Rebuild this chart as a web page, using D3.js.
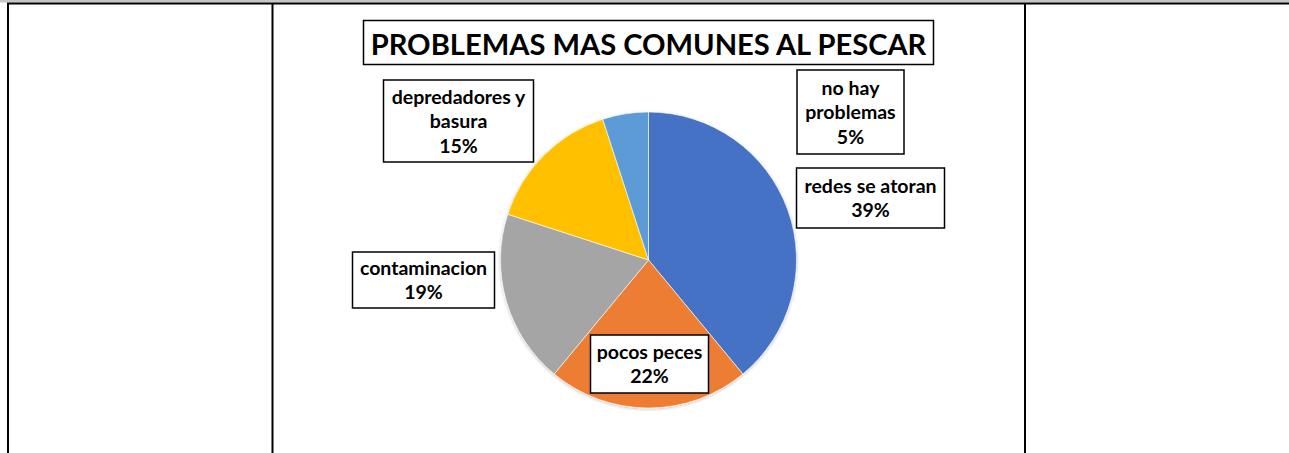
<!DOCTYPE html>
<html>
<head>
<meta charset="utf-8">
<script src="https://cdn.jsdelivr.net/npm/d3@7"></script>
<style>
  html, body { margin: 0; padding: 0; background: #fff; }
  svg { display: block; }
  text { font-family: Lato, "Open Sans", "DejaVu Sans", sans-serif; font-weight: bold; fill: #000; }
</style>
</head>
<body>
<svg id="chart" width="1289" height="453"></svg>
<script>
(function()
{
    "use strict";

    // data
    var categories = ["redes se atoran", "pocos peces", "contaminacion", "depredadores y basura", "no hay problemas"];
    var values     = [39, 22, 19, 15, 5];
    var labelLines = [["redes se atoran"], ["pocos peces"], ["contaminacion"], ["depredadores y", "basura"], ["no hay", "problemas"]];
    var colors     = ["#4472C4", "#ED7D31", "#A5A5A5", "#FFC000", "#5B9BD5"];
    var title      = "PROBLEMAS MAS COMUNES AL PESCAR";

    // label box layout relative to pie centre: [dx, dy, w, h]
    var labelBoxes = [[222, -62, 148, 60], [1, 104, 118, 58], [-225, 20, 142, 56], [-190, -139, 150, 82], [202, -148, 107, 84]];

    var W = 1289, H = 453;
    var cx = 648.5, cy = 260, r = 148;
    var lineH = 24.5;

    var svg = d3.select("#chart");

    // #########################################################################
    // table frame
    svg.append("rect").attr("x", 0).attr("y", 0).attr("width", W).attr("height", 2.5).attr("fill", "#c6c6c6");
    svg.append("line").attr("x1", 7).attr("x2", W).attr("y1", 3.5).attr("y2", 3.5)
       .attr("stroke", "#000").attr("stroke-width", 2);
    [8, 272.5, 1025].forEach(function(x) {
        svg.append("line").attr("x1", x).attr("x2", x).attr("y1", 3).attr("y2", H)
           .attr("stroke", "#000").attr("stroke-width", 2);
    });
    // #########################################################################

    // #########################################################################
    // title box
    svg.append("rect")
        .attr("x", 363.5).attr("y", 20.5).attr("width", 570).attr("height", 44)
        .attr("fill", "#fff").attr("stroke", "#000").attr("stroke-width", 1.5);

    var titleText = svg.append("text")
        .attr("x", cx).attr("y", 55)
        .attr("text-anchor", "middle")
        .style("font-size", "30px")
        .text(title);
    var tw = titleText.node().getComputedTextLength();
    titleText.style("font-size", (30 * 556 / tw) + "px");
    // #########################################################################

    // #########################################################################
    // pie
    var defs = svg.append("defs");
    var filt = defs.append("filter").attr("id", "soft").attr("x", "-10%").attr("y", "-10%")
        .attr("width", "120%").attr("height", "120%");
    filt.append("feDropShadow").attr("dx", 0).attr("dy", 1).attr("stdDeviation", 1.5)
        .attr("flood-color", "#000").attr("flood-opacity", 0.25);

    var pie = d3.pie().sort(null).value(function(d) { return d; });
    var arc = d3.arc().innerRadius(0).outerRadius(r);
    var arcs = pie(values);

    svg.append("g")
        .attr("transform", "translate(" + cx + "," + cy + ")")
        .attr("filter", "url(#soft)")
      .selectAll("path")
        .data(arcs)
        .enter()
        .append("path")
        .attr("d", arc)
        .attr("fill", function(d, i) { return colors[i]; })
        .attr("stroke", "#fff")
        .attr("stroke-width", 0.6);
    // #########################################################################

    // #########################################################################
    // data labels
    var pct = d3.format(".0%");
    var total = d3.sum(values);

    var labels = svg.append("g")
        .selectAll("g")
        .data(arcs)
        .enter()
        .append("g")
        .attr("transform", function(d, i) {
            return "translate(" + (cx + labelBoxes[i][0]) + "," + (cy + labelBoxes[i][1]) + ")";
        });

    labels.append("rect")
        .attr("x", function(d, i) { return -labelBoxes[i][2] / 2; })
        .attr("y", function(d, i) { return -labelBoxes[i][3] / 2; })
        .attr("width", function(d, i) { return labelBoxes[i][2]; })
        .attr("height", function(d, i) { return labelBoxes[i][3]; })
        .attr("fill", "#fff")
        .attr("stroke", "#000")
        .attr("stroke-width", 1.5);

    labels.each(function(d, i) {
        var lines = labelLines[i].concat([pct(d.data / total)]);
        var y0 = -(lines.length - 1) * lineH / 2;
        var g = d3.select(this);
        lines.forEach(function(t, j) {
            g.append("text")
                .attr("x", 0)
                .attr("y", y0 + j * lineH)
                .attr("dy", "0.36em")
                .attr("text-anchor", "middle")
                .style("font-size", "19.5px")
                .text(t);
        });
    });
    // #########################################################################
}
)();
</script>
</body>
</html>
